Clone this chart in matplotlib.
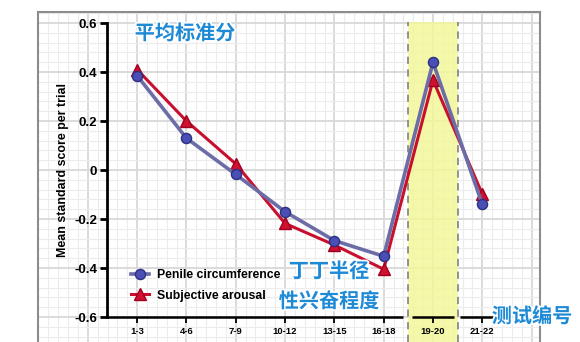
import matplotlib.pyplot as plt
import matplotlib.patheffects as pe
import numpy as np

plt.rcParams['font.family'] = ['Liberation Sans', 'DejaVu Sans']

# data
trials = ['1-3', '4-6', '7-9', '10-12', '13-15', '16-18', '19-20', '21-22']
penile = [0.385, 0.13, -0.018, -0.17, -0.288, -0.352, 0.44, -0.14]
arousal = [0.41, 0.2, 0.025, -0.218, -0.306, -0.405, 0.367, -0.098]
yticks = [-0.6, -0.4, -0.2, 0, 0.2, 0.4, 0.6]
ytick_labels = ['-0.6', '-0.4', '-0.2', '0', '0.2', '0.4', '0.6']

W, H = 580, 342
fig = plt.figure(figsize=(W / 100, H / 100), dpi=100)

def fx(px):
    return px / W

def fy(py):
    return 1 - py / H

# box of the graph paper
left, right, top = 38, 540, 12
pos = [fx(left), 0, fx(right) - fx(left), fy(top)]
xlim = (-2.01, 8.17)
ylim = (-0.702, 0.645)

bg = fig.add_axes(pos)
bg.set_xlim(xlim)
bg.set_ylim(ylim)
bg.set_xticks([])
bg.set_yticks([])
for s in bg.spines.values():
    s.set_color('#8c8c8c')
    s.set_linewidth(1.5)
bg.spines['bottom'].set_visible(False)

# graph paper lines
for x in np.arange(-2, 8.2, 0.2):
    major = abs(x - round(x)) < 1e-6
    bg.axvline(x, color='#dadada' if major else '#ececec', lw=1.4 if major else 0.8, zorder=0)
for y in np.arange(-0.8, 0.7, 0.04):
    major = abs(y * 5 - round(y * 5)) < 1e-6
    bg.axhline(y, color='#dadada' if major else '#ececec', lw=1.4 if major else 0.8, zorder=0)

ax = fig.add_axes(pos)
ax.patch.set_alpha(0)
ax.set_xlim(xlim)
ax.set_ylim(ylim)

x = np.arange(len(trials))

# highlighted trials 19-20
band = (5.5, 6.5)
ax.fill_between(band, ylim[0], 0.605, color='#f3f79a', alpha=0.85, lw=0, zorder=1)
ax.vlines(band, ylim[0], 0.605, colors='#8a8a8a', linestyles=(0, (4, 3)), lw=1.3, zorder=2)

ax.plot(x, arousal, color='#c8102e', lw=2.2, marker='^', ms=8.5,
        mfc='#d0102f', mec='#a00020', label='Subjective arousal', zorder=4)
ax.plot(x, penile, color='#6c6da6', lw=2.6, marker='o', ms=7.3,
        mfc='#4a4fb6', mec='#2d3080', label='Penile circumference', zorder=5)

# axes lines
for k in ['top', 'right']:
    ax.spines[k].set_visible(False)
ax.spines['left'].set_position(('data', -0.61))
ax.spines['left'].set_bounds(-0.6, 0.6)
ax.spines['left'].set_linewidth(2)
ax.spines['bottom'].set_position(('data', -0.6))
ax.spines['bottom'].set_visible(False)
for a, b in [(-0.61, 5.4), (5.58, 6.43), (6.55, 7.3)]:
    ax.plot([a, b], [-0.6, -0.6], color='black', lw=1.8, solid_capstyle='butt', zorder=3)

ax.set_yticks(yticks)
ax.set_yticklabels(ytick_labels, fontsize=9.5, fontweight='bold')
ax.tick_params(axis='y', length=5, width=2, pad=2)
ax.set_xticks(x)
ax.set_xticklabels(trials, fontsize=6.8, fontweight='bold')
ax.tick_params(axis='x', length=4.5, width=1.3, pad=3)

fig.text(fx(63), fy(170), 'Mean standard score per trial', rotation=90,
         ha='center', va='center', fontsize=8.9, fontweight='bold')

h, l = ax.get_legend_handles_labels()
ax.legend(h[::-1], l[::-1], loc='upper left', bbox_to_anchor=(fx(125), fy(263)),
          bbox_transform=fig.transFigure, frameon=False, borderpad=0,
          handlelength=1.5, handletextpad=0.6, labelspacing=0.7,
          prop={'size': 8.8, 'weight': 'bold'})

# chinese captions
cn = dict(family=['Noto Sans CJK SC', 'DejaVu Sans'], fontsize=14.5, color='#1e8ad6',
          ha='center', va='center', weight='bold',
          path_effects=[pe.withStroke(linewidth=2.5, foreground='white')], zorder=10)
fig.text(fx(185), fy(33), '平均标准分', **cn)
fig.text(fx(329), fy(271), '丁丁半径', **cn)
fig.text(fx(329), fy(301), '性兴奋程度', **cn)
fig.text(fx(532), fy(316), '测试编号', **cn)

fig.savefig('out.png', dpi=100)
